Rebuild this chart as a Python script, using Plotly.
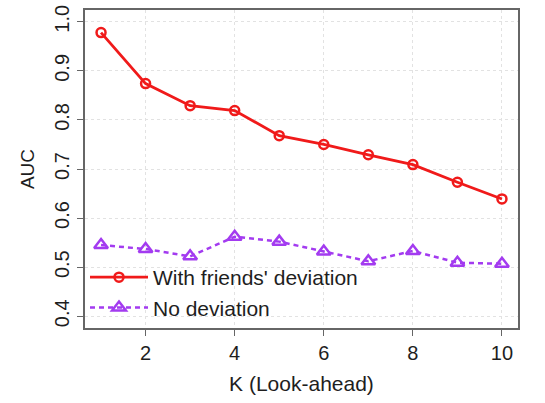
import plotly.graph_objects as go

# Look-ahead window K and AUC for the two models
k_values = [1, 2, 3, 4, 5, 6, 7, 8, 9, 10]
auc_friends_dev = [0.978, 0.874, 0.829, 0.819, 0.768, 0.750, 0.729, 0.709, 0.673, 0.639]
auc_no_dev = [0.545, 0.537, 0.522, 0.562, 0.552, 0.532, 0.512, 0.533, 0.509, 0.507]

x_ticks = [2, 4, 6, 8, 10]
y_ticks = [0.4, 0.5, 0.6, 0.7, 0.8, 0.9, 1.0]
y_tick_text = ["0.4", "0.5", "0.6", "0.7", "0.8", "0.9", "1.0"]

RED = "#f01a1a"
PURPLE = "#a33bf0"
FONT = "Liberation Sans, Arial, sans-serif"
TEXT = "#1e1e1e"

fig = go.Figure()
fig.add_trace(go.Scatter(
    x=k_values, y=auc_friends_dev, mode="lines+markers",
    name="With friends' deviation",
    line=dict(color=RED, width=2.8),
    marker=dict(symbol="circle-open", size=9, color=RED, line=dict(width=2.5, color=RED)),
))
fig.add_trace(go.Scatter(
    x=k_values, y=auc_no_dev, mode="lines+markers",
    name="No deviation",
    line=dict(color=PURPLE, width=2.5, dash="5px,4px"),
    marker=dict(symbol="triangle-up-open", size=12, color=PURPLE, line=dict(width=2.5, color=PURPLE)),
))

fig.update_layout(
    width=545, height=403,
    margin=dict(l=85, r=27, t=5, b=75),
    paper_bgcolor="white", plot_bgcolor="white",
    font=dict(family=FONT, size=20, color=TEXT),
    showlegend=True,
    legend=dict(
        x=0.0, y=0.0, xanchor="left", yanchor="bottom",
        bgcolor="rgba(0,0,0,0)", borderwidth=0,
        font=dict(size=21, color=TEXT),
        tracegroupgap=0, itemwidth=58,
    ),
)
fig.update_xaxes(
    range=[0.64, 10.36], tickvals=x_ticks,
    showline=True, linecolor="#666", linewidth=1.5, mirror=True,
    ticks="outside", ticklen=6, tickcolor="#666",
    showgrid=True, gridcolor="#e2e2e2", griddash="dot", gridwidth=1,
    zeroline=False,
    tickfont=dict(size=20, color=TEXT),
    title=dict(text="K (Look-ahead)", font=dict(size=21, color=TEXT), standoff=14),
)
fig.update_yaxes(
    range=[0.376, 1.024], tickvals=y_ticks, ticktext=y_tick_text, tickangle=-90,
    showline=True, linecolor="#666", linewidth=1.5, mirror=True,
    ticks="outside", ticklen=6, tickcolor="#666",
    showgrid=True, gridcolor="#e2e2e2", griddash="dot", gridwidth=1,
    zeroline=False,
    tickfont=dict(size=20, color=TEXT),
    title=dict(text="AUC", font=dict(size=19, color=TEXT), standoff=12),
)

fig.write_html("out.html")
